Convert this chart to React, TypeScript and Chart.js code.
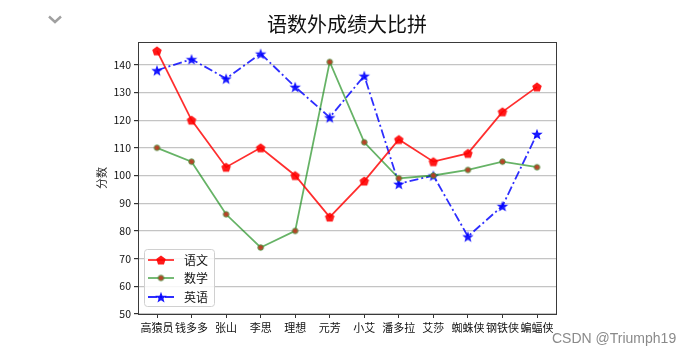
import React, { useEffect, useRef } from "react";
import { Chart, registerables } from "chart.js";

Chart.register(...registerables);

const students = ["高猿员", "钱多多", "张山", "李思", "理想", "元芳", "小艾", "潘多拉", "艾莎", "蜘蛛侠", "钢铁侠", "蝙蝠侠"];
const chineseScores = [145, 120, 103, 110, 100, 85, 98, 113, 105, 108, 123, 132];
const mathScores = [110, 105, 86, 74, 80, 141, 112, 99, 100, 102, 105, 103];
const englishScores = [138, 142, 135, 144, 132, 121, 136, 97, 100, 78, 89, 115];
const yTickValues = [50, 60, 70, 80, 90, 100, 110, 120, 130, 140];
const seriesNames = ["语文", "数学", "英语"];
const titleText = "语数外成绩大比拼";
const yLabel = "分数";

const FONT = '"Noto Sans CJK SC", "Noto Sans", sans-serif';

function makePentagon(color: string, r: number) {
  const c = document.createElement("canvas");
  const s = Math.ceil(r * 2 + 2);
  c.width = s;
  c.height = s;
  const ctx = c.getContext("2d")!;
  ctx.fillStyle = color;
  ctx.beginPath();
  for (let i = 0; i < 5; i++) {
    const a = -Math.PI / 2 + (i * 2 * Math.PI) / 5;
    const x = s / 2 + r * Math.cos(a);
    const y = s / 2 + r * Math.sin(a) + 0.5;
    if (i === 0) ctx.moveTo(x, y);
    else ctx.lineTo(x, y);
  }
  ctx.closePath();
  ctx.fill();
  return c;
}

function makeStar(color: string, r: number) {
  const c = document.createElement("canvas");
  const s = Math.ceil(r * 2 + 2);
  c.width = s;
  c.height = s;
  const ctx = c.getContext("2d")!;
  ctx.fillStyle = color;
  ctx.beginPath();
  for (let i = 0; i < 10; i++) {
    const a = -Math.PI / 2 + (i * Math.PI) / 5;
    const rr = i % 2 === 0 ? r : r * 0.42;
    const x = s / 2 + rr * Math.cos(a);
    const y = s / 2 + rr * Math.sin(a) + 0.7;
    if (i === 0) ctx.moveTo(x, y);
    else ctx.lineTo(x, y);
  }
  ctx.closePath();
  ctx.fill();
  return c;
}

function makeDot(face: string, edge: string, r: number) {
  const c = document.createElement("canvas");
  const s = Math.ceil(r * 2 + 3);
  c.width = s;
  c.height = s;
  const ctx = c.getContext("2d")!;
  ctx.fillStyle = face;
  ctx.strokeStyle = edge;
  ctx.lineWidth = 1;
  ctx.beginPath();
  ctx.arc(s / 2, s / 2, r, 0, Math.PI * 2);
  ctx.fill();
  ctx.stroke();
  return c;
}

export default function App() {
  const ref = useRef<HTMLCanvasElement | null>(null);

  useEffect(() => {
    if (!ref.current) return;
    const red = "rgba(255,0,0,0.82)";
    const green = "rgba(0,128,0,0.6)";
    const blue = "rgba(0,0,255,0.82)";
    const pent = makePentagon("rgba(255,0,0,0.9)", 5);
    const star = makeStar("rgba(0,0,255,0.9)", 6);
    const dot = makeDot("rgba(185,60,35,0.95)", "rgba(60,150,60,0.8)", 2.8);
    const blueDash = [9, 3, 2, 3];

    const toPts = (arr: number[]) => arr.map((v, i) => ({ x: i, y: v }));

    const frameAndExtras = {
      id: "frameAndExtras",
      afterDraw(chart: any) {
        const { ctx, chartArea } = chart;
        const { left, right, top, bottom } = chartArea;
        ctx.save();
        // frame
        ctx.strokeStyle = "#3a3a3a";
        ctx.lineWidth = 1;
        ctx.strokeRect(Math.round(left) + 0.5, Math.round(top) + 0.5, Math.round(right - left), Math.round(bottom - top));
        // title
        ctx.fillStyle = "#111";
        ctx.font = `20px ${FONT}`;
        ctx.textAlign = "center";
        ctx.textBaseline = "middle";
        ctx.fillText(titleText, (left + right) / 2, 24);
        // y label
        ctx.save();
        ctx.translate(102, (top + bottom) / 2);
        ctx.rotate(-Math.PI / 2);
        ctx.font = `11px ${FONT}`;
        ctx.fillStyle = "#222";
        ctx.fillText(yLabel, 0, 0);
        ctx.restore();
        // legend
        const bx = 144.5, by = 249.5, bw = 70, bh = 57;
        ctx.fillStyle = "rgba(255,255,255,0.85)";
        ctx.strokeStyle = "#d0d0d0";
        ctx.lineWidth = 1;
        ctx.beginPath();
        (ctx as any).roundRect ? (ctx as any).roundRect(bx, by, bw, bh, 3) : ctx.rect(bx, by, bw, bh);
        ctx.fill();
        ctx.stroke();
        const rows = [
          { y: 260, color: red, dash: [] as number[], img: pent },
          { y: 278, color: green, dash: [] as number[], img: dot },
          { y: 297, color: blue, dash: blueDash, img: star },
        ];
        rows.forEach((r, i) => {
          ctx.strokeStyle = r.color;
          ctx.lineWidth = 1.8;
          ctx.setLineDash(r.dash);
          ctx.beginPath();
          ctx.moveTo(148, r.y);
          ctx.lineTo(174, r.y);
          ctx.stroke();
          ctx.setLineDash([]);
          ctx.drawImage(r.img, 161 - r.img.width / 2, r.y - r.img.height / 2);
          ctx.fillStyle = "#111";
          ctx.font = `12px ${FONT}`;
          ctx.textAlign = "left";
          ctx.textBaseline = "middle";
          ctx.fillText(seriesNames[i], 184, r.y);
        });
        ctx.restore();
      },
    };

    const chart = new Chart(ref.current, {
      type: "line",
      data: {
        datasets: [
          {
            label: seriesNames[0],
            data: toPts(chineseScores),
            borderColor: red,
            backgroundColor: red,
            borderWidth: 1.8,
            pointStyle: pent as any,
            pointRadius: 5,
            tension: 0,
          },
          {
            label: seriesNames[1],
            data: toPts(mathScores),
            borderColor: green,
            backgroundColor: green,
            borderWidth: 1.8,
            pointStyle: dot as any,
            pointRadius: 3,
            tension: 0,
          },
          {
            label: seriesNames[2],
            data: toPts(englishScores),
            borderColor: blue,
            backgroundColor: blue,
            borderWidth: 1.8,
            borderDash: blueDash,
            pointStyle: star as any,
            pointRadius: 6,
            tension: 0,
          },
        ],
      },
      options: {
        animation: false,
        responsive: false,
        devicePixelRatio: 1,
        layout: { padding: { left: 0, top: 42, right: 137, bottom: 0 } },
        plugins: {
          legend: { display: false },
          title: { display: false },
          tooltip: { enabled: false },
        },
        scales: {
          x: {
            type: "linear",
            min: -0.55,
            max: 11.55,
            afterBuildTicks: (scale: any) => {
              scale.ticks = students.map((_, i) => ({ value: i }));
            },
            afterFit: (scale: any) => {
              scale.height = 42;
            },
            ticks: {
              autoSkip: false,
              maxRotation: 0,
              minRotation: 0,
              padding: 3,
              color: "#111",
              font: { family: FONT, size: 11 },
              callback: (v: any) => students[Math.round(Number(v))] ?? "",
            },
            grid: {
              drawOnChartArea: false,
              tickLength: 4,
              tickColor: "#333",
            },
            border: { display: false },
          },
          y: {
            type: "linear",
            min: 50,
            max: 148.2,
            afterBuildTicks: (scale: any) => {
              scale.ticks = yTickValues.map((v) => ({ value: v }));
            },
            afterFit: (scale: any) => {
              scale.width = 138;
            },
            ticks: {
              padding: 3,
              color: "#111",
              font: { family: FONT, size: 10.5 },
            },
            grid: {
              color: "#c4c4c4",
              lineWidth: 1.2,
              tickLength: 4,
              tickColor: "#333",
            },
            border: { display: false },
          },
        },
      },
      plugins: [frameAndExtras],
    } as any);

    return () => chart.destroy();
  }, []);

  return (
    <div style={{ position: "absolute", left: 0, top: 0, width: 693, height: 356, background: "#fff" }}>
      <svg width={693} height={356} style={{ position: "absolute", left: 0, top: 0, pointerEvents: "none" }}>
        <polyline points="49,16.5 55,22 61,16.5" fill="none" stroke="#a0a0a0" strokeWidth={2.4} />
      </svg>
      <canvas ref={ref} width={693} height={356} style={{ position: "absolute", left: 0, top: 0, width: 693, height: 356 }} />
      <div
        style={{
          position: "absolute",
          left: 552,
          top: 329,
          fontFamily: '"Liberation Sans", Arial, sans-serif',
          fontSize: 14,
          color: "#8a8a8a",
          whiteSpace: "nowrap",
          lineHeight: "18px",
        }}
      >
        CSDN @Triumph19
      </div>
    </div>
  );
}
